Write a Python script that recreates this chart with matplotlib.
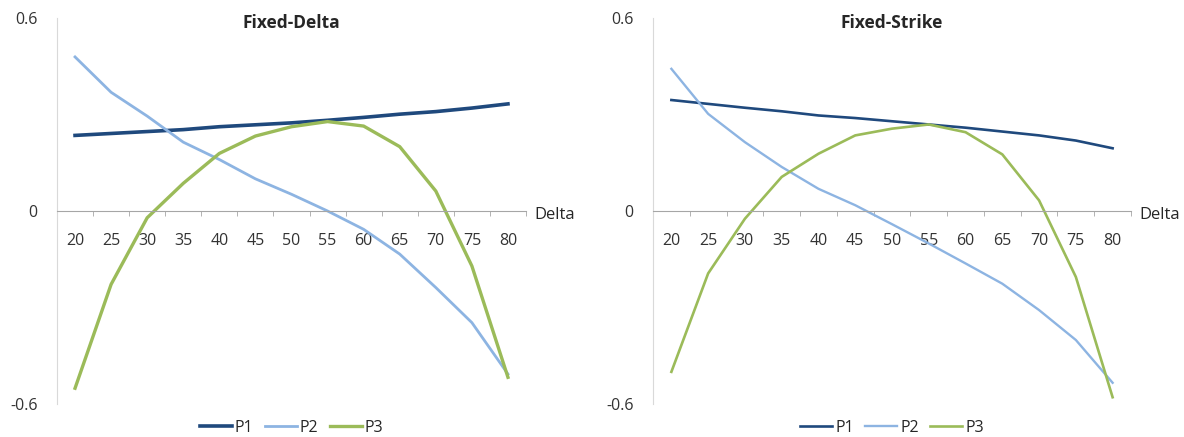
import matplotlib
matplotlib.use('Agg')
import matplotlib.pyplot as plt

# delta categories on the x axis
deltas = [20, 25, 30, 35, 40, 45, 50, 55, 60, 65, 70, 75, 80]

# Fixed-Delta panel
fd_p1 = [0.235, 0.241, 0.247, 0.253, 0.262, 0.268, 0.274, 0.282, 0.291, 0.301, 0.309, 0.320, 0.333]
fd_p2 = [0.479, 0.369, 0.295, 0.214, 0.160, 0.100, 0.052, 0.000, -0.057, -0.134, -0.238, -0.347, -0.507]
fd_p3 = [-0.551, -0.228, -0.021, 0.086, 0.179, 0.233, 0.262, 0.278, 0.264, 0.200, 0.062, -0.171, -0.517]

# Fixed-Strike panel
fs_p1 = [0.345, 0.333, 0.321, 0.310, 0.297, 0.289, 0.279, 0.269, 0.259, 0.247, 0.235, 0.219, 0.195]
fs_p2 = [0.442, 0.302, 0.214, 0.137, 0.069, 0.018, -0.041, -0.101, -0.163, -0.226, -0.308, -0.401, -0.534]
fs_p3 = [-0.500, -0.194, -0.024, 0.106, 0.178, 0.235, 0.256, 0.269, 0.245, 0.176, 0.033, -0.205, -0.579]

titles = ['Fixed-Delta', 'Fixed-Strike']
series_names = ['P1', 'P2', 'P3']
colors = ['#1F497D', '#8DB4E2', '#9BBB59']

plt.rcParams['font.family'] = ['Open Sans', 'DejaVu Sans']

W, H = 1184, 437
fig = plt.figure(figsize=(W / 100, H / 100), dpi=100)

# axes boxes in pixels: (left, right, top, bottom)
boxes = [(57, 526, 18, 404), (653, 1131, 18, 404)]
panels = [(fd_p1, fd_p2, fd_p3), (fs_p1, fs_p2, fs_p3)]
widths = [(2.6, 2.0, 2.4), (1.9, 1.7, 1.9)]
axis_gray = '#A6A6A6'
txt = '#333333'

for (l, r, t, b), data, title, lws in zip(boxes, panels, titles, widths):
    ax = fig.add_axes([l / W, 1 - b / H, (r - l) / W, (b - t) / H])
    for vals, name, c, lw in zip(data, series_names, colors, lws):
        ax.plot(deltas, vals, color=c, lw=lw, label=name, solid_joinstyle='round')

    ax.set_xlim(17.5, 82.5)
    ax.set_ylim(-0.6, 0.6)
    for s in ['top', 'right']:
        ax.spines[s].set_visible(False)
    ax.spines['bottom'].set_position(('data', 0))
    ax.spines['bottom'].set_color(axis_gray)
    ax.spines['left'].set_color('#D9D9D9')

    ax.set_xticks(deltas)
    ax.set_xticks([d - 2.5 for d in deltas] + [82.5], minor=True)
    ax.tick_params(axis='x', which='major', length=0, pad=16, labelsize=11.5, colors=txt)
    ax.tick_params(axis='x', which='minor', length=3.5, direction='out', color=axis_gray)
    ax.set_yticks([-0.6, 0, 0.6])
    ax.set_yticklabels(['-0.6', '0', '0.6'])
    ax.tick_params(axis='y', length=0, pad=14, labelsize=11.5, colors=txt)

    ax.text(1.018, 0.49, 'Delta', transform=ax.transAxes, ha='left', va='center',
            fontsize=12, color='#262626')
    ax.text(0.5, 0.987, title, transform=ax.transAxes, ha='center', va='center',
            fontsize=12.5, fontweight='bold', color='#262626')
    ax.legend(loc='center', bbox_to_anchor=(0.5, -0.062), ncol=3, frameon=False,
              fontsize=11.5, handlelength=2.0, handletextpad=0.2, columnspacing=0.7,
              labelcolor='#262626')

fig.savefig('out.png', dpi=100)
